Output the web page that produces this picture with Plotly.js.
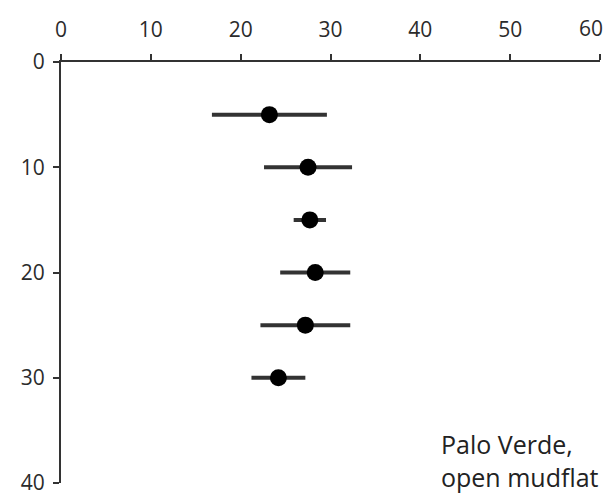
<!DOCTYPE html>
<html>
<head>
<meta charset="utf-8">
<script src="https://cdn.plot.ly/plotly-3.0.1.min.js"></script>
<style>
  html, body { margin: 0; padding: 0; background: #fff; }
  #chart { width: 610px; height: 501px; }
</style>
</head>
<body>
<div id="chart"></div>
<script>
// Sediment depth (cm) and measured values with their spread
const depths = [5, 10, 15, 20, 25, 30];
const means = [23.2, 27.5, 27.7, 28.3, 27.2, 24.2];
const spreads = [6.4, 4.9, 1.8, 3.9, 5.0, 3.0];

const xTicks = [0, 10, 20, 30, 40, 50, 60];
const yTicks = [0, 10, 20, 30, 40];

const siteLabel = 'Palo Verde,<br>open mudflat';

const axisColor = '#333333';
const fontFamily = '"Open Sans", "Noto Sans", sans-serif';
const tickFont = { family: fontFamily, size: 21, color: '#2b2b2b' };

// the last top label is drawn as a right-anchored note so it stays on the page
const lastX = xTicks[xTicks.length - 1];
const xTickText = xTicks.map(v => v === lastX ? '' : String(v));

const trace = {
  type: 'scatter',
  mode: 'markers',
  x: means,
  y: depths,
  marker: { color: '#000000', size: 17 },
  error_x: {
    type: 'data',
    array: spreads,
    visible: true,
    color: '#333333',
    thickness: 4,
    width: 0
  },
  cliponaxis: false,
  hoverinfo: 'x+y'
};

const layout = {
  width: 610,
  height: 501,
  margin: { l: 61, r: 10, t: 62, b: 18 },
  paper_bgcolor: '#ffffff',
  plot_bgcolor: '#ffffff',
  showlegend: false,
  font: { family: fontFamily, size: 21, color: axisColor },
  xaxis: {
    side: 'top',
    range: [0, 60],
    tickvals: xTicks,
    ticktext: xTickText,
    tickfont: tickFont,
    ticklabeloverflow: 'allow',
    showline: true,
    linecolor: axisColor,
    linewidth: 2,
    ticks: 'outside',
    ticklen: 6,
    tickwidth: 2,
    tickcolor: axisColor,
    showgrid: false,
    zeroline: false,
    ticklabelstandoff: 9
  },
  yaxis: {
    range: [40, 0],
    tickvals: yTicks,
    ticktext: yTicks.map(String),
    tickfont: tickFont,
    ticklabeloverflow: 'allow',
    showline: true,
    linecolor: axisColor,
    linewidth: 2,
    ticks: 'outside',
    ticklen: 6,
    tickwidth: 2,
    tickcolor: axisColor,
    showgrid: false,
    zeroline: false,
    ticklabelstandoff: 4
  },
  annotations: [
    {
      xref: 'x',
      yref: 'paper',
      x: lastX,
      y: (483 - 28) / 421,
      xanchor: 'right',
      yanchor: 'middle',
      xshift: 5,
      showarrow: false,
      text: String(lastX),
      font: tickFont
    },
    {
      xref: 'paper',
      yref: 'paper',
      x: (439 - 61) / 539,
      y: (483 - 425) / 421,
      xanchor: 'left',
      yanchor: 'top',
      align: 'left',
      showarrow: false,
      text: siteLabel,
      font: { family: fontFamily, size: 25, color: '#222222' }
    }
  ]
};

Plotly.newPlot('chart', [trace], layout, { displayModeBar: false, staticPlot: true });
</script>
</body>
</html>
